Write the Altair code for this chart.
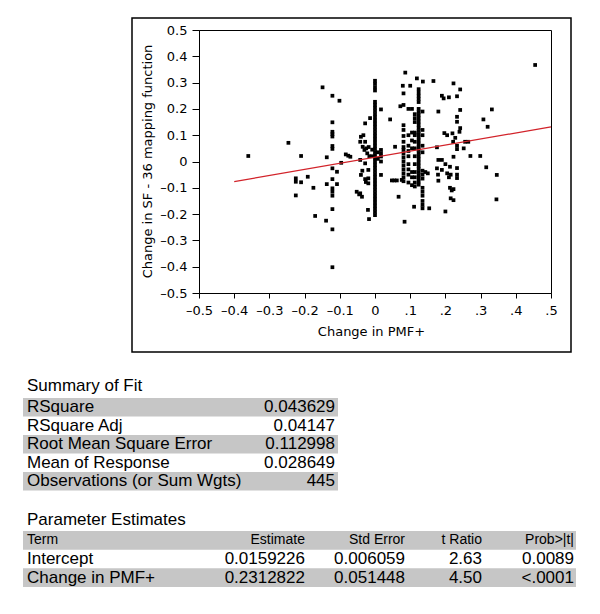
import altair as alt
import pandas as pd

# ---------------- scatter data: (Change in PMF+, Change in SF-36 mapping function) -------------
scattered_points = [
    (-0.36, 0.021), (-0.246, 0.071), (-0.21, 0.021), (-0.225, -0.064), (-0.225, -0.077),
    (-0.21, -0.079), (-0.191, -0.058), (-0.225, -0.129), (-0.175, -0.1), (-0.17, -0.207),
    (-0.149, 0.282), (-0.139, -0.225), (-0.137, 0.016), (-0.137, -0.086),
    (-0.101, 0.231), (-0.108, -0.039), (-0.108, -0.086), (-0.096, -0.005), (-0.083, 0.027),
    (-0.076, 0.022), (-0.07, 0.018),
    (-0.052, -0.115), (-0.045, -0.125), (-0.037, -0.134), (-0.042, -0.121),
    (-0.036, -0.035), (-0.028, -0.067), (-0.026, -0.078), (-0.019, -0.064), (-0.019, -0.083),
    (-0.028, 0.145), (-0.033, 0.1), (-0.04, 0.094), (-0.042, 0.075), (-0.028, 0.075),
    (-0.035, 0.056), (-0.03, 0.044), (-0.022, 0.031), (-0.042, 0.006), (-0.028, -0.007),
    (-0.019, -0.032), (-0.04, -0.051), (-0.02, -0.184), (-0.017, -0.219), (-0.014, 0.165),
    (-0.016, 0.02), (-0.025, 0.05), (-0.018, 0.055),
    (0.017, 0.198), (0.017, 0.044), (0.017, 0.031), (0.017, 0.019), (0.017, 0.0),
    (0.017, -0.051), (0.008, 0.01), (-0.008, 0.02), (0.008, 0.035), (-0.008, 0.045),
    (0.043, 0.16), (0.057, 0.056), (0.048, -0.072), (0.055, -0.072), (0.062, -0.072),
    (0.067, -0.134), (0.076, -0.07),
    (0.072, 0.21), (0.086, 0.338), (0.079, 0.288), (0.1, 0.288), (0.084, -0.229),
    (0.111, -0.172), (0.119, 0.316), (0.136, 0.304), (0.154, -0.178), (0.143, -0.04),
    (0.15, -0.045), (0.166, 0.306),
    (0.176, 0.054), (0.18, 0.19), (0.19, 0.25), (0.195, 0.24), (0.21, 0.244),
    (0.223, 0.297), (0.233, 0.248), (0.242, 0.274), (0.242, 0.196), (0.233, 0.17),
    (0.233, 0.151), (0.242, 0.127), (0.24, 0.113), (0.197, 0.108), (0.205, 0.1),
    (0.22, 0.107), (0.228, 0.09), (0.256, 0.075), (0.265, 0.075), (0.222, 0.075),
    (0.233, 0.06), (0.233, 0.047), (0.252, 0.05), (0.271, 0.021), (0.299, 0.021),
    (0.223, 0.018), (0.18, 0.006), (0.19, 0.006), (0.2, -0.01), (0.213, -0.02),
    (0.176, -0.026), (0.19, -0.032), (0.205, -0.045), (0.21, -0.06), (0.215, -0.05),
    (0.233, -0.025), (0.233, -0.05), (0.233, -0.063), (0.179, -0.05), (0.18, -0.073),
    (0.213, -0.1), (0.218, -0.11), (0.223, -0.105), (0.215, -0.14), (0.223, -0.147),
    (0.2, -0.19),
    (0.308, 0.16), (0.332, 0.198), (0.32, 0.132), (0.316, -0.022), (0.346, -0.051),
    (0.345, -0.144), (0.455, 0.367),
]

# dense vertical columns of points: (PMF+ change, list of SF-36 changes)
col_m0121_sf36 = [0.25, 0.149, 0.113, 0.104, 0.095, 0.059, 0.048, -0.026, -0.067,
                  -0.102, -0.115, -0.13, -0.181, -0.258, -0.402]
col_zero_sf36 = [-0.204, -0.192, -0.18, -0.168, -0.156, -0.144, -0.132, -0.12, -0.108,
                 -0.096, -0.084, -0.072, -0.06, -0.048, -0.036, -0.024, -0.012, 0.0,
                 0.012, 0.024, 0.036, 0.048, 0.06, 0.072, 0.084, 0.096, 0.108, 0.12,
                 0.132, 0.144, 0.156, 0.168, 0.18, 0.192, 0.204, 0.216, 0.227,
                 0.27, 0.282, 0.295, 0.307]
col_0081_sf36 = [0.259, 0.215, 0.138, 0.12, 0.097, 0.075, 0.055, 0.044, 0.03, 0.015,
                 0.0, -0.015, -0.03, -0.045, -0.06, -0.075]
col_0095_sf36 = [0.2, 0.1, 0.06, 0.04, 0.02, -0.01, -0.03, -0.05, -0.08]
col_0105_sf36 = [0.2, 0.11, 0.08, 0.05, -0.04, -0.06, -0.09]
col_0113_sf36 = [0.18, 0.165, 0.15, 0.11, 0.1, 0.075, 0.05, 0.02, -0.01, -0.04, -0.06,
                 -0.08, -0.095]
col_0124_sf36 = [0.275, 0.262, 0.25, 0.238, 0.226, 0.2, 0.188, 0.176, 0.164, 0.152,
                 0.14, 0.128, 0.116, 0.104, 0.092, 0.08, 0.068, 0.056, 0.044, 0.032,
                 0.02, 0.008, -0.004, -0.016, -0.028, -0.04, -0.052, -0.064, -0.076,
                 -0.088]
col_0135_sf36 = [0.19, 0.12, 0.1, 0.06, 0.035, -0.035, -0.05, -0.065, -0.1, -0.115,
                 -0.13, -0.15, -0.165, -0.178]
columns = [(-0.121, col_m0121_sf36), (0.0, col_zero_sf36), (0.081, col_0081_sf36),
           (0.095, col_0095_sf36), (0.105, col_0105_sf36), (0.113, col_0113_sf36),
           (0.124, col_0124_sf36), (0.135, col_0135_sf36)]

# fitted line
fit_pmf = [-0.4, 0.5]
fit_sf36 = [-0.0766, 0.1316]

x_ticks = [-0.5, -0.4, -0.3, -0.2, -0.1, 0, 0.1, 0.2, 0.3, 0.4, 0.5]
y_ticks = [-0.5, -0.4, -0.3, -0.2, -0.1, 0, 0.1, 0.2, 0.3, 0.4, 0.5]

# ---------------- tables -------------
summary_title = "Summary of Fit"
summary_labels = ["RSquare", "RSquare Adj", "Root Mean Square Error",
                  "Mean of Response", "Observations (or Sum Wgts)"]
summary_values = ["0.043629", "0.04147", "0.112998", "0.028649", "445"]

param_title = "Parameter Estimates"
param_header = ["Term", "Estimate", "Std Error", "t Ratio", "Prob>|t|"]
param_terms = ["Intercept", "Change in PMF+"]
param_estimate = ["0.0159226", "0.2312822"]
param_stderr = ["0.006059", "0.051448"]
param_tratio = ["2.63", "4.50"]
param_prob = ["0.0089", "<.0001"]

# ---------------- build frames -------------
rows = [{"pmf": x, "sf36": y} for x, y in scattered_points]
for cx, ys in columns:
    rows += [{"pmf": cx, "sf36": y} for y in ys]
pts_df = pd.DataFrame(rows)
fit_df = pd.DataFrame({"pmf": fit_pmf, "sf36": fit_sf36})

W, H = 352, 263
TICK_FONT = "DejaVu Sans"
TABLE_FONT = "Liberation Sans"
GRAY = "#c6c6c6"

xscale = alt.Scale(domain=[-0.5, 0.5], nice=False, zero=False)
yscale = alt.Scale(domain=[-0.5, 0.5], nice=False, zero=False)

x_label_expr = ("abs(datum.value) < 1e-9 ? '0' : (datum.value < 0 ? '\u2013' + format(-datum.value, '.1f')"
                " : replace(format(datum.value, '.1f'), '0.', '.'))")
y_label_expr = ("abs(datum.value) < 1e-9 ? '0' : (datum.value < 0 ? '\u2013' + format(-datum.value, '.1f')"
                " : format(datum.value, '.1f'))")

xaxis = alt.Axis(values=x_ticks, labelExpr=x_label_expr, grid=False, tickSize=5,
                 labelPadding=6, labelFont=TICK_FONT, labelFontSize=13, labelFlush=False,
                 labelOverlap=False, title="Change in PMF+", titleFont=TICK_FONT,
                 titleFontSize=13, titleFontWeight="normal", titleX=172, titleY=38,
                 titleBaseline="middle", titleAlign="center",
                 domainColor="black", tickColor="black", labelColor="black", titleColor="black")
yaxis = alt.Axis(values=y_ticks, labelExpr=y_label_expr, grid=False, tickSize=7,
                 labelPadding=5, labelFont=TICK_FONT, labelFontSize=13, labelFlush=False,
                 labelOverlap=False, title="Change in SF - 36 mapping function",
                 titleFont=TICK_FONT, titleFontSize=13, titleFontWeight="normal",
                 titleX=-52, titleY=131, titleAngle=-90, titleBaseline="middle",
                 titleAlign="center",
                 domainColor="black", tickColor="black", labelColor="black", titleColor="black")

points = alt.Chart(pts_df).mark_square(size=14, color="black", opacity=1).encode(
    x=alt.X("pmf:Q", scale=xscale, axis=xaxis),
    y=alt.Y("sf36:Q", scale=yscale, axis=yaxis),
)
fit_line = alt.Chart(fit_df).mark_line(color="#d2232a", strokeWidth=1.2).encode(
    x=alt.X("pmf:Q", scale=xscale, axis=xaxis),
    y=alt.Y("sf36:Q", scale=yscale, axis=yaxis),
)
scatter = alt.layer(points, fit_line)

one = pd.DataFrame({"k": [0]})
outer_frame = alt.Chart(one).mark_rect(filled=False, stroke="black", strokeWidth=1.5).encode(
    x=alt.value(-67), x2=alt.value(372), y=alt.value(-12), y2=alt.value(322))

# summary of fit table
sum_df = pd.DataFrame({"label": summary_labels, "value": summary_values,
                       "srow": list(range(len(summary_labels)))})
sy = alt.Y("srow:O", scale=alt.Scale(domain=list(range(len(summary_labels))),
                                     range=[368, 460.5], paddingInner=0, paddingOuter=0),
           axis=None)
sum_bands = alt.Chart(sum_df).transform_filter("datum.srow % 2 == 0").mark_rect(
    color=GRAY).encode(y=sy, x=alt.value(-176), x2=alt.value(139))
sum_labels = alt.Chart(sum_df).mark_text(align="left", baseline="middle", font=TABLE_FONT,
                                         fontSize=17, color="black").encode(
    y=sy, x=alt.value(-172), text="label:N")
sum_values = alt.Chart(sum_df).mark_text(align="right", baseline="middle", font=TABLE_FONT,
                                         fontSize=17, color="black").encode(
    y=sy, x=alt.value(136), text="value:N")
sum_title = alt.Chart(one).mark_text(align="left", baseline="middle", font=TABLE_FONT,
                                     fontSize=17, color="black", text=summary_title).encode(
    x=alt.value(-172), y=alt.value(356))
summary = alt.layer(sum_bands, sum_labels, sum_values)

# parameter estimates table
p_df = pd.DataFrame({
    "prow": [0, 1, 2],
    "c0": [param_header[0]] + param_terms,
    "c1": [param_header[1]] + param_estimate,
    "c2": [param_header[2]] + param_stderr,
    "c3": [param_header[3]] + param_tratio,
    "c4": [param_header[4]] + param_prob,
})
py = alt.Y("prow:O", scale=alt.Scale(domain=[0, 1, 2], range=[501, 557],
                                     paddingInner=0, paddingOuter=0), axis=None)
p_bands = alt.Chart(p_df).transform_filter("datum.prow != 1").mark_rect(color=GRAY).encode(
    y=py, x=alt.value(-176), x2=alt.value(377))
col_x = [-172, 106, 206, 283, 375]
p_layers = [p_bands]
for i, cx in enumerate(col_x):
    align = "left" if i == 0 else "right"
    for hdr in (True, False):
        base = alt.Chart(p_df).transform_filter(
            "datum.prow == 0" if hdr else "datum.prow > 0")
        p_layers.append(base.mark_text(align=align, baseline="middle", font=TABLE_FONT,
                                       fontSize=14 if hdr else 17, color="black").encode(
            y=py, x=alt.value(cx), text=f"c{i}:N"))
params = alt.layer(*p_layers)
p_title = alt.Chart(one).mark_text(align="left", baseline="middle", font=TABLE_FONT,
                                   fontSize=17, color="black", text=param_title).encode(
    x=alt.value(-172), y=alt.value(490))

chart = alt.layer(outer_frame, scatter, summary, params, sum_title, p_title).resolve_scale(
    x="independent", y="independent"
).properties(
    width=W, height=H,
    background="white",
    padding={"left": 191, "top": 22, "right": 41, "bottom": 313},
    autosize=alt.AutoSizeParams(type="none"),
).configure(
    view=alt.ViewConfig(stroke="black", strokeWidth=1),
    axis=alt.AxisConfig(labelOverlap=False),
)

chart.save("out.html", embed_options={"renderer": "svg", "actions": False})
